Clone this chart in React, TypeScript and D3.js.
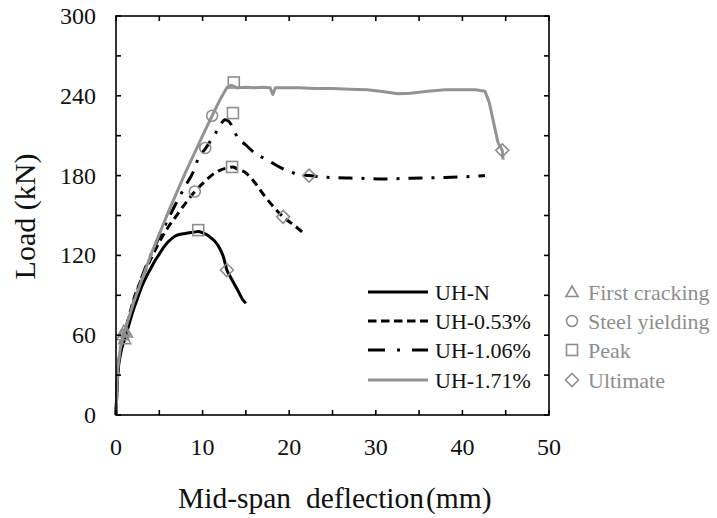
import React from "react";
import * as d3 from "d3";

const xTicks = [0, 10, 20, 30, 40, 50];
const yTicks = [0, 60, 120, 180, 240, 300];

const nX = [0, 0.2, 0.5, 1.0, 1.5, 2.0, 2.5, 3.0, 3.5, 4.0, 4.5, 5.0, 5.5, 6.0, 6.5, 7.0, 8.0, 9.0, 9.5, 10.0, 10.5, 11.0, 11.5, 12.0, 12.4, 12.8, 13.2, 13.7, 14.2, 14.6, 15.0];
const nY = [0, 30, 45, 57, 68, 79, 88, 97, 104, 110, 116, 121, 126, 130, 133, 135, 136.5, 137.5, 138, 137, 135.5, 133, 130, 125, 119, 109, 104, 98, 92, 87, 84];

const s053X = [0, 0.2, 0.5, 1, 1.5, 2, 3, 4, 5, 6, 7, 8, 9.1, 10, 11, 12, 13, 13.5, 14, 15, 16, 17, 18, 19.3, 20.5, 21.6];
const s053Y = [0, 32, 48, 62, 74, 86, 103, 117, 130, 141, 150, 159, 168, 174, 180, 184, 186, 186.5, 185, 182, 175, 166, 158, 149, 143, 137];

const s106X = [0, 0.2, 0.5, 1, 2, 3, 4, 5, 6, 7, 8, 9, 9.5, 10.3, 11, 11.7, 12.6, 13, 13.5, 14, 15, 16, 17.4, 19, 20.5, 22.3, 25, 28, 31, 34, 37, 40, 42.6];
const s106Y = [0, 33, 48, 62, 84, 104, 120, 134, 147, 160, 172, 184, 193, 200, 207, 214, 222, 221, 216, 209, 203, 197, 192, 186, 182, 180, 178.5, 178, 177.5, 178, 178.5, 179, 180];

const s171X = [0, 0.2, 0.5, 1, 2, 3, 4, 5, 6, 7, 8, 9, 10, 11.1, 12, 12.8, 13.3, 14, 15, 16, 17, 17.8, 18.1, 18.4, 19, 21, 23, 25, 27, 29, 31, 32.5, 34, 36, 38, 40, 41.5, 42.6, 43.1, 43.6, 44.1, 44.6, 44.7];
const s171Y = [0, 35, 50, 63, 84, 102, 120, 136, 152, 167, 182, 196, 210, 225, 237, 246, 248, 246, 246.5, 246, 246.5, 246, 241, 246, 246, 246, 245.5, 245.5, 245, 244.5, 243, 241.5, 242, 243.5, 244.5, 244.5, 244.5, 243.5, 235, 220, 205, 199, 192];

const seriesNames = ["UH-N", "UH-0.53%", "UH-1.06%", "UH-1.71%"];
const seriesX = [nX, s053X, s106X, s171X];
const seriesY = [nY, s053Y, s106Y, s171Y];

const crackX = [1.0, 0.8, 1.2, 0.9];
const crackY = [57, 60, 62, 63];
const yieldX = [9.1, 10.3, 11.1];
const yieldY = [168, 200.7, 225];
const peakX = [9.5, 13.4, 13.5, 13.6];
const peakY = [139, 186.5, 227, 250];
const ultX = [12.8, 19.3, 22.3, 44.6];
const ultY = [109, 149, 180, 199];

const markerNames = ["First cracking", "Steel yielding", "Peak", "Ultimate"];

const GRAY = "#8e8e8e";
const LINE_GRAY = "#939393";
const FONT = '"Liberation Serif", "Times New Roman", Times, "DejaVu Serif", serif';

const styles = [
  { stroke: "#000", dash: "none" },
  { stroke: "#000", dash: "8 5" },
  { stroke: "#000", dash: "14 9 3 9" },
  { stroke: LINE_GRAY, dash: "none" },
];

const L = 116, R = 549, T = 16, B = 415;

function Marker({ kind, x, y }: { kind: string; x: number; y: number }) {
  const common = { fill: "none", stroke: GRAY, strokeWidth: 1.6 };
  if (kind === "tri") {
    const s = 6;
    return <path d={`M${x},${y - s}L${x + s},${y + s * 0.75}L${x - s},${y + s * 0.75}Z`} {...common} />;
  }
  if (kind === "circ") return <circle cx={x} cy={y} r={5.5} {...common} />;
  if (kind === "sq") return <rect x={x - 5.5} y={y - 5.5} width={11} height={11} {...common} />;
  const s = 6.5;
  return <path d={`M${x},${y - s}L${x + s},${y}L${x},${y + s}L${x - s},${y}Z`} {...common} />;
}

export default function App() {
  const x = d3.scaleLinear().domain([0, 50]).range([L, R]);
  const y = d3.scaleLinear().domain([0, 300]).range([B, T]);
  const line = d3
    .line<[number, number]>()
    .x((d) => x(d[0]))
    .y((d) => y(d[1]))
    .curve(d3.curveMonotoneX);
  const lineFree = d3
    .line<[number, number]>()
    .x((d) => x(d[0]))
    .y((d) => y(d[1]))
    .curve(d3.curveLinear);

  const xMinor = d3.range(0, 51, 5);
  const yMinor = d3.range(0, 301, 30);
  const tk = 5;

  const legendY = [292, 321, 350, 380];
  const markerKinds = ["tri", "circ", "sq", "dia"];
  const tstyle = { fontFamily: FONT };

  return (
    <svg width={717} height={518} style={{ position: "absolute", left: 0, top: 0, background: "#fff", fontFamily: FONT }}>
      <rect width={717} height={518} fill="#fff" />
      {seriesX.map((xs, i) => {
        const pts = xs.map((v, j) => [v, seriesY[i][j]] as [number, number]);
        const gen = i === 3 ? lineFree : line;
        return (
          <path
            key={seriesNames[i]}
            d={gen(pts) || ""}
            fill="none"
            stroke={styles[i].stroke}
            strokeWidth={3}
            strokeDasharray={styles[i].dash}
            strokeLinejoin="round"
          />
        );
      })}
      {crackX.map((v, i) => <Marker key={"c" + i} kind="tri" x={x(v)} y={y(crackY[i])} />)}
      {yieldX.map((v, i) => <Marker key={"y" + i} kind="circ" x={x(v)} y={y(yieldY[i])} />)}
      {peakX.map((v, i) => <Marker key={"p" + i} kind="sq" x={x(v)} y={y(peakY[i])} />)}
      {ultX.map((v, i) => <Marker key={"u" + i} kind="dia" x={x(v)} y={y(ultY[i])} />)}

      <rect x={L} y={T} width={R - L} height={B - T} fill="none" stroke="#000" strokeWidth={1.6} />
      {xMinor.map((v) => (
        <g key={"xt" + v}>
          <line x1={x(v)} x2={x(v)} y1={B} y2={B - tk} stroke="#000" strokeWidth={1.6} />
          <line x1={x(v)} x2={x(v)} y1={T} y2={T + tk} stroke="#000" strokeWidth={1.6} />
        </g>
      ))}
      {yMinor.map((v) => (
        <g key={"yt" + v}>
          <line x1={L} x2={L + tk} y1={y(v)} y2={y(v)} stroke="#000" strokeWidth={1.6} />
          <line x1={R} x2={R - tk} y1={y(v)} y2={y(v)} stroke="#000" strokeWidth={1.6} />
        </g>
      ))}
      {xTicks.map((v) => (
        <text key={"xl" + v} style={tstyle} x={x(v)} y={455} textAnchor="middle" fontSize={24} fill="#111">
          {v}
        </text>
      ))}
      {yTicks.map((v) => (
        <text key={"yl" + v} style={tstyle} x={96} y={y(v) + 8} textAnchor="end" fontSize={24} fill="#111">
          {v}
        </text>
      ))}

      <text style={tstyle} x={178} y={508} fontSize={29.5} fill="#111">
        <tspan>Mid-span</tspan>
        <tspan dx={15}>deflection</tspan>
        <tspan dx={2}>(mm)</tspan>
      </text>
      <text style={tstyle} transform={`translate(35,${216.5}) rotate(-90)`} textAnchor="middle" fontSize={30} fill="#111">
        Load (kN)
      </text>

      {seriesNames.map((n, i) => (
        <g key={"lg" + n}>
          <line
            x1={368}
            x2={428}
            y1={legendY[i]}
            y2={legendY[i]}
            stroke={styles[i].stroke}
            strokeWidth={3}
            strokeDasharray={i === 1 ? "8.5 4.5" : i === 2 ? "17 12 3 12" : "none"}
          />
          <text style={tstyle} x={435} y={legendY[i] + 7.5} fontSize={22} fill="#111">
            {n}
          </text>
        </g>
      ))}
      {markerNames.map((n, i) => (
        <g key={"ml" + n}>
          <Marker kind={markerKinds[i]} x={572} y={legendY[i]} />
          <text style={tstyle} x={588} y={legendY[i] + 7.5} fontSize={22} fill={GRAY}>
            {n}
          </text>
        </g>
      ))}
    </svg>
  );
}
